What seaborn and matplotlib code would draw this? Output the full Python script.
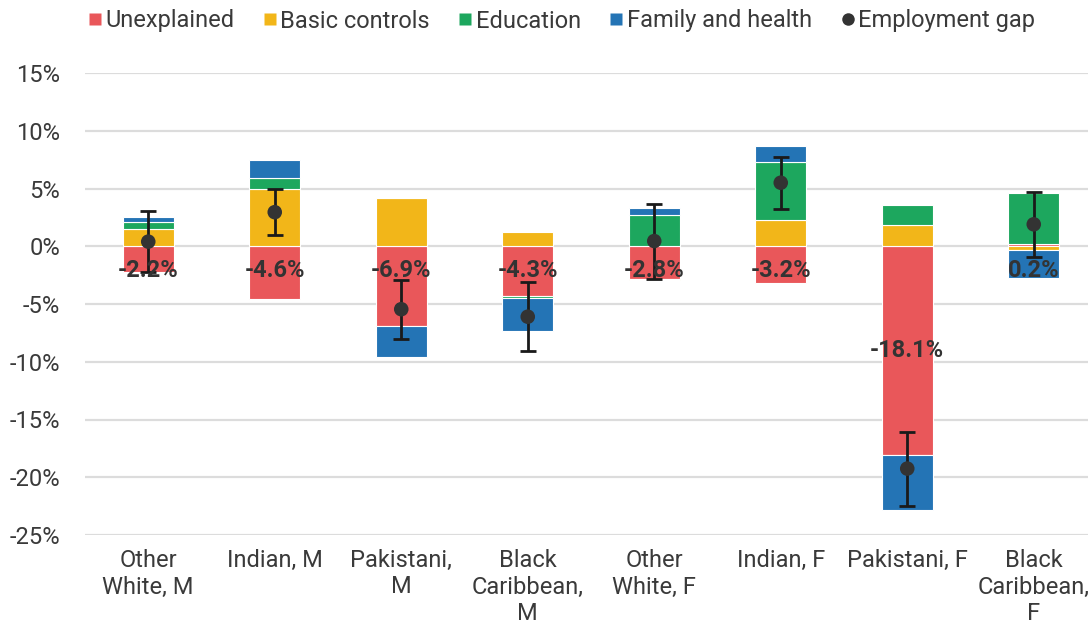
import numpy as np
import pandas as pd
import matplotlib
matplotlib.use("Agg")
import matplotlib.pyplot as plt
from matplotlib.lines import Line2D
import seaborn as sns

# Employment gap decomposition by ethnic group and sex (percentage points)
categories = [
    "Other\nWhite, M", "Indian, M", "Pakistani,\nM", "Black\nCaribbean,\nM",
    "Other\nWhite, F", "Indian, F", "Pakistani, F", "Black\nCaribbean,\nF",
]
unexplained = [-2.2, -4.6, -6.9, -4.3, -2.8, -3.2, -18.1, 0.2]
basic_controls = [1.5, 5.0, 4.15, 1.24, -0.12, 2.28, 1.85, -0.3]
education = [0.6, 0.9, 0.0, -0.15, 2.74, 5.05, 1.7, 4.42]
family_health = [0.45, 1.6, -2.7, -2.9, 0.6, 1.33, -4.7, -2.45]
employment_gap = [0.4, 2.95, -5.45, -6.1, 0.45, 5.5, -19.25, 1.9]
gap_ci = [2.65, 2.0, 2.55, 3.0, 3.25, 2.25, 3.2, 2.83]

series_names = ["Unexplained", "Basic controls", "Education", "Family and health"]
series_values = [unexplained, basic_controls, education, family_health]
series_colors = ["#E9575A", "#F2B619", "#1DA75E", "#2474B5"]

yticks = [15, 10, 5, 0, -5, -10, -15, -20, -25]

sns.set_theme(style="white")
plt.rcParams["font.family"] = ["Roboto", "DejaVu Sans"]
text_color = "#3a3a3a"

fig = plt.figure(figsize=(10.88, 6.2), dpi=100)
ax = fig.add_axes([85 / 1088, 1 - 535 / 620, 1012 / 1088, 462 / 620])

# Stacked segments: positives grow upward from zero, negatives downward
pos_base = np.zeros(len(categories))
neg_base = np.zeros(len(categories))
for name, vals, color in zip(series_names, series_values, series_colors):
    vals = np.asarray(vals, dtype=float)
    bottom = np.where(vals >= 0, pos_base, neg_base)
    df = pd.DataFrame({"group": categories, "value": vals})
    sns.barplot(data=df, x="group", y="value", order=categories, color=color,
                saturation=1, width=0.4, bottom=bottom, errorbar=None,
                edgecolor="white", linewidth=0.8, ax=ax, zorder=2)
    pos_base = pos_base + np.where(vals >= 0, vals, 0)
    neg_base = neg_base + np.where(vals < 0, vals, 0)

# Employment gap with its confidence interval
xpos = np.arange(len(categories))
ax.errorbar(xpos, employment_gap, yerr=gap_ci, fmt="none", ecolor="#1a1a1a",
            elinewidth=2, capsize=6, capthick=2, zorder=4)
gap_df = pd.DataFrame({"group": categories, "gap": employment_gap})
sns.scatterplot(data=gap_df, x="group", y="gap", color="#333333", s=110,
                edgecolor="none", zorder=5, ax=ax, legend=False)

# Unexplained component labels
for i, v in enumerate(unexplained):
    ly = v / 2 if abs(v) > 10 else -2.1
    ax.text(i, ly, f"{v:.1f}%", ha="center", va="center", fontsize=17,
            fontweight="bold", color="#333333", zorder=6)

ax.set_ylim(-25, 15)
ax.set_xlim(-0.5, len(categories) - 0.5)
ax.set_yticks(yticks)
ax.set_yticklabels([f"{t}%" for t in yticks])
ax.yaxis.grid(True, color="#dcdcdc", linewidth=1.6, zorder=0)
ax.set_axisbelow(True)
for s in ax.spines.values():
    s.set_visible(False)
ax.tick_params(axis="y", length=0, pad=18, labelsize=17, labelcolor=text_color)
ax.tick_params(axis="x", length=0, pad=10, labelsize=17, labelcolor=text_color)
ax.set_xlabel("")
ax.set_ylabel("")

handles = [Line2D([0], [0], marker="s", linestyle="none", markersize=8.5,
                  markerfacecolor=c, markeredgecolor="none") for c in series_colors]
handles.append(Line2D([0], [0], marker="o", linestyle="none", markersize=9,
                      markerfacecolor="#333333", markeredgecolor="none"))
labels = series_names + ["Employment gap"]
fig.legend(handles, labels, loc="center", bbox_to_anchor=(562 / 1088, 1 - 21 / 620),
           ncol=5, frameon=False, fontsize=17, handlelength=0.5,
           handletextpad=0.2, columnspacing=1.25, labelcolor=text_color)

fig.savefig("out.png", dpi=100)
